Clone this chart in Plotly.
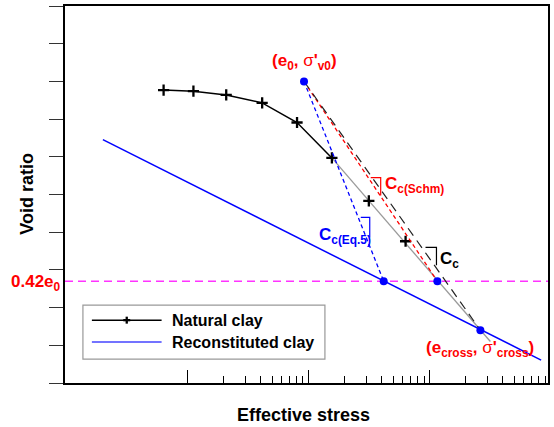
import numpy as np
import plotly.graph_objects as go

# ---------------- data (stress on log axis, void ratio in axis units) -------------
natural_stress = [0.635, 1.12, 2.09, 4.14, 8.04, 15.6, 31.5, 63.4]
natural_void = [7.77, 7.74, 7.64, 7.43, 6.91, 5.97, 4.83, 3.76]
natural_black_pts = 6             # black line drawn through first six points

recon_stress = [0.2, 835]
recon_void = [6.455, 0.608]

fit_stress = [15.6, 318]          # grey straight line through lab points
fit_void = [5.97, 1.10]

e0_stress, e0_void = 9.18, 8.00   # (e0, sigma'v0)
e042 = 2.70                       # 0.42 e0 level
eq5_stress = 41.8                 # intersection on reconstituted line
schm_stress = 116.0               # intersection on lab curve
cross_stress, cross_void = 263.0, 1.40

y_ticks = list(range(0, 11))
x_major = [1, 10, 100]
x_minor = [m * d for d in (1, 10, 100) for m in range(2, 10)]

# ---------------- figure ----------------
W, H = 554, 427
L, R, T, B = 65, 4, 5, 44
pw, ph = W - L - R, H - T - B


def px(xp):  # pixel x -> paper
    return (xp - L) / pw


def py(yp):  # pixel y -> paper
    return (H - B - yp) / ph


fig = go.Figure()

fig.add_trace(go.Scatter(x=recon_stress, y=recon_void, mode="lines",
                         line=dict(color="#0000ff", width=1.5), hoverinfo="skip"))
fig.add_trace(go.Scatter(x=natural_stress[:natural_black_pts], y=natural_void[:natural_black_pts],
                         mode="lines", line=dict(color="black", width=1.5), hoverinfo="skip"))
fig.add_trace(go.Scatter(x=fit_stress, y=fit_void, mode="lines",
                         line=dict(color="#9a9a9a", width=1.3), hoverinfo="skip"))
fig.add_trace(go.Scatter(x=natural_stress, y=natural_void, mode="markers",
                         marker=dict(symbol="cross-thin", size=8,
                                     line=dict(color="black", width=2.3)),
                         hoverinfo="skip"))
# Cc lines from (e0, sigma'v0)
fig.add_trace(go.Scatter(x=[e0_stress, eq5_stress], y=[e0_void, e042], mode="lines",
                         line=dict(color="#0000ff", width=1.3, dash="4px,3px"), hoverinfo="skip"))
fig.add_trace(go.Scatter(x=[e0_stress, schm_stress], y=[e0_void, e042], mode="lines",
                         line=dict(color="#ff0000", width=1.3, dash="4px,3px"), hoverinfo="skip"))
fig.add_trace(go.Scatter(x=[e0_stress, cross_stress], y=[e0_void, cross_void], mode="lines",
                         line=dict(color="#222222", width=1.2, dash="9px,6px"), hoverinfo="skip"))
# key points
fig.add_trace(go.Scatter(x=[e0_stress, eq5_stress, schm_stress, cross_stress],
                         y=[e0_void, e042, e042, cross_void], mode="markers",
                         marker=dict(color="#0000ff", size=8), hoverinfo="skip"))

shapes = []
# 0.42 e0 line
shapes.append(dict(type="line", xref="paper", yref="y", x0=0, x1=1, y0=e042, y1=e042,
                   line=dict(color="#ff33ff", width=1.5, dash="8px,5px"), layer="below"))
# slope brackets
for (x0, x1, y0, y1, c) in [(372, 382, 177, 195, "#ff0000"),
                            (362, 371, 217, 237, "#0000ff"),
                            (427, 438, 247, 265, "black")]:
    shapes.append(dict(type="path", xref="paper", yref="paper",
                       path=f"M{px(x0)},{py(y0)} L{px(x1)},{py(y0)} L{px(x1)},{py(y1)}",
                       line=dict(color=c, width=1.2)))
# manual legend
shapes.append(dict(type="rect", xref="paper", yref="paper", x0=px(83), x1=px(326),
                   y0=py(359), y1=py(305), line=dict(color="#999999", width=1.2),
                   fillcolor="white"))
shapes.append(dict(type="line", xref="paper", yref="paper", x0=px(92), x1=px(162),
                   y0=py(320), y1=py(320), line=dict(color="black", width=1.5)))
shapes.append(dict(type="line", xref="paper", yref="paper", x0=px(123.5), x1=px(130.5),
                   y0=py(320), y1=py(320), line=dict(color="black", width=2.3)))
shapes.append(dict(type="line", xref="paper", yref="paper", x0=px(127), x1=px(127),
                   y0=py(316.5), y1=py(323.5), line=dict(color="black", width=2.3)))
shapes.append(dict(type="line", xref="paper", yref="paper", x0=px(92), x1=px(162),
                   y0=py(342), y1=py(342), line=dict(color="#4444ff", width=1.5)))

F = "Liberation Sans, Arial, sans-serif"
ann = []
ann.append(dict(x=px(170), y=py(320), xref="paper", yref="paper", xanchor="left",
                yanchor="middle", text="<b>Natural clay</b>", showarrow=False,
                font=dict(family=F, size=16, color="black")))
ann.append(dict(x=px(170), y=py(342), xref="paper", yref="paper", xanchor="left",
                yanchor="middle", text="<b>Reconstituted clay</b>", showarrow=False,
                font=dict(family=F, size=16, color="black")))
ann.append(dict(x=np.log10(e0_stress), y=e0_void, xref="x", yref="y", xanchor="center",
                yanchor="bottom", yshift=6, showarrow=False,
                text="<b>(e<sub>0</sub>, </b>σ<b>'<sub>v0</sub>)</b>",
                font=dict(family=F, size=17, color="#ff0000")))
ann.append(dict(x=np.log10(cross_stress), y=cross_void, xref="x", yref="y", xanchor="center",
                yanchor="top", yshift=-6, showarrow=False,
                text="<b>(e<sub>cross</sub>, </b>σ<b>'<sub>cross</sub>)</b>",
                font=dict(family=F, size=17, color="#ff0000")))
ann.append(dict(x=px(384), y=py(184), xref="paper", yref="paper", xanchor="left",
                yanchor="middle", showarrow=False, text="<b>C<sub>c(Schm)</sub></b>",
                font=dict(family=F, size=17, color="#ff0000")))
ann.append(dict(x=px(318), y=py(236), xref="paper", yref="paper", xanchor="left",
                yanchor="middle", showarrow=False, text="<b>C<sub>c(Eq.5)</sub></b>",
                font=dict(family=F, size=17, color="#0000ff")))
ann.append(dict(x=px(440), y=py(260), xref="paper", yref="paper", xanchor="left",
                yanchor="middle", showarrow=False, text="<b>C<sub>c</sub></b>",
                font=dict(family=F, size=17, color="black")))
ann.append(dict(x=0, y=e042, xref="paper", yref="y", xanchor="right", yanchor="middle",
                xshift=-2, yshift=-2, showarrow=False, text="<b>0.42e<sub>0</sub></b>",
                font=dict(family=F, size=17, color="#ff0000")))
ann.append(dict(x=px(26), y=py(193), xref="paper", yref="paper", xanchor="center",
                yanchor="middle", textangle=-90, showarrow=False, text="<b>Void ratio</b>",
                font=dict(family=F, size=18, color="black")))
ann.append(dict(x=px(304), y=py(415), xref="paper", yref="paper", xanchor="center",
                yanchor="middle", showarrow=False, text="<b>Effective stress</b>",
                font=dict(family=F, size=18, color="black")))

fig.update_layout(
    width=W, height=H, margin=dict(l=L, r=R, t=T, b=B, pad=0),
    paper_bgcolor="white", plot_bgcolor="white", showlegend=False,
    shapes=shapes, annotations=ann,
    xaxis=dict(type="log", range=[np.log10(0.0973), np.log10(952)],
               tickmode="array", tickvals=x_major, showticklabels=False,
               ticks="inside", ticklen=13, tickwidth=1.3, tickcolor="black",
               minor=dict(tickmode="array", tickvals=x_minor, ticks="inside",
                          ticklen=7, tickwidth=1.3, tickcolor="black", showgrid=False),
               showgrid=False, zeroline=False, showline=True, linecolor="black",
               linewidth=1.5, mirror=True),
    yaxis=dict(range=[0, 10], tickmode="array", tickvals=y_ticks, showticklabels=False,
               ticks="outside", ticklen=14, tickwidth=1.3, tickcolor="#333333",
               showgrid=False, zeroline=False, showline=True, linecolor="black",
               linewidth=1.5, mirror=True),
)

fig.write_html("out.html")
